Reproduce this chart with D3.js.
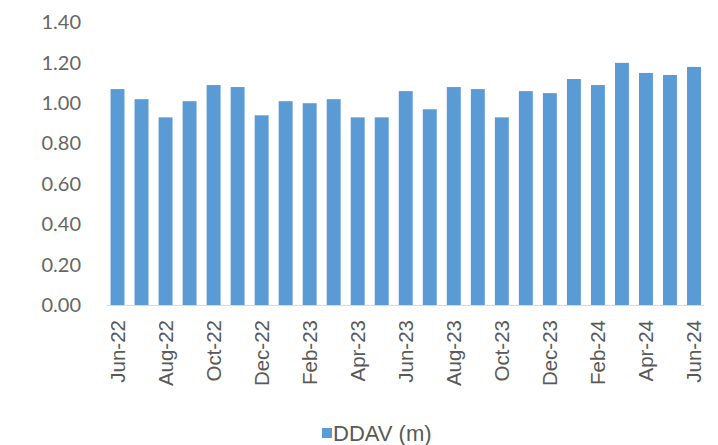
<!DOCTYPE html>
<html>
<head>
<meta charset="utf-8">
<script src="https://cdn.jsdelivr.net/npm/d3@7"></script>
<style>
  html, body { margin: 0; padding: 0; background: #fff; }
  svg { display: block; }
</style>
</head>
<body>
<svg id="chart" width="718" height="445"></svg>
<script>
const months = ["Jun-22","Jul-22","Aug-22","Sep-22","Oct-22","Nov-22","Dec-22","Jan-23","Feb-23","Mar-23","Apr-23","May-23","Jun-23","Jul-23","Aug-23","Sep-23","Oct-23","Nov-23","Dec-23","Jan-24","Feb-24","Mar-24","Apr-24","May-24","Jun-24"];
const ddav = [1.07,1.02,0.93,1.01,1.09,1.08,0.94,1.01,1.00,1.02,0.93,0.93,1.06,0.97,1.08,1.07,0.93,1.06,1.05,1.12,1.09,1.20,1.15,1.14,1.18];
const yTicks = [0,0.2,0.4,0.6,0.8,1.0,1.2,1.4];
const seriesName = "DDAV (m)";

const svg = d3.select("#chart");
const x = d3.scaleBand().domain(months).range([105.5, 706]).paddingInner(0.42).paddingOuter(0.21);
const y = d3.scaleLinear().domain([0, 1.4]).range([305, 22.5]);

svg.append("g").selectAll("rect").data(months).join("rect")
  .attr("x", d => x(d))
  .attr("width", x.bandwidth())
  .attr("y", (d, i) => y(ddav[i]))
  .attr("height", (d, i) => y(0) - y(ddav[i]))
  .attr("fill", "#5B9BD5");

// baseline
svg.append("line")
  .attr("x1", 107).attr("x2", 704)
  .attr("y1", y(0) + 0.5).attr("y2", y(0) + 0.5)
  .attr("stroke", "#d9d9d9").attr("stroke-width", 1);

// y axis
const yAxis = svg.append("g").attr("transform", "translate(81,0)")
  .call(d3.axisLeft(y).tickValues(yTicks).tickFormat(d3.format(".2f")).tickSize(0).tickPadding(0));
yAxis.select(".domain").remove();
yAxis.selectAll("text")
  .attr("font-family", "Lato, sans-serif")
  .attr("font-size", 20)
  .attr("fill", "#666666");

// x axis
const xAxis = svg.append("g").attr("transform", `translate(0,${y(0)})`)
  .call(d3.axisBottom(x).tickValues(months.filter((d, i) => i % 2 === 0)).tickSize(0).tickPadding(0));
xAxis.select(".domain").remove();
xAxis.selectAll("text")
  .attr("font-family", "'Liberation Sans', Arial, sans-serif")
  .attr("font-size", 20.5)
  .attr("fill", "#595959")
  .attr("transform", "rotate(-90)")
  .attr("text-anchor", "end")
  .attr("x", -15)
  .attr("y", 0)
  .attr("dy", "0.35em");

// legend
const legend = svg.append("g").attr("transform", "translate(322,428)");
legend.append("rect").attr("width", 10).attr("height", 10).attr("fill", "#5B9BD5");
legend.append("text")
  .attr("x", 11).attr("y", 5).attr("dy", "0.35em")
  .attr("font-family", "'Liberation Sans', Arial, sans-serif")
  .attr("font-size", 22)
  .attr("fill", "#595959")
  .text(seriesName);
</script>
</body>
</html>
